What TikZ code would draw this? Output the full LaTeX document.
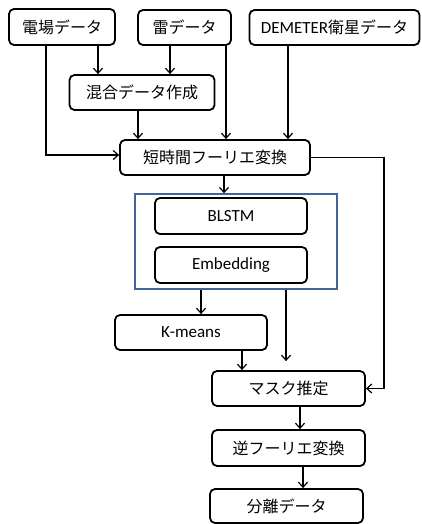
\documentclass[tikz,border=0pt]{standalone}
\usepackage{fontspec}
\setmainfont{Carlito}
\newfontfamily\jp{Noto Sans CJK JP}
\usetikzlibrary{arrows.meta}
\tikzset{
  box/.style={draw=black, line width=1.8pt, rounded corners=5pt, inner sep=0pt, font=\fontsize{16}{18}\selectfont\jp},
  lbox/.style={box, font=\fontsize{17}{19}\selectfont},
  frame/.style={draw={rgb,255:red,65;green,101;blue,154}, line width=1.5pt, inner sep=0pt},
  arr/.style={draw=black, line width=1.2pt, -{Straight Barb[length=5pt,width=9pt,line width=1.2pt]}},
  ln/.style={draw=black, line width=1.2pt}
}
\begin{document}
\begin{tikzpicture}[x=1pt,y=-1pt]
\useasboundingbox (0,0) rectangle (422,524);
% nodes
\node[box, minimum width=106pt, minimum height=36pt] (e) at (62,27) {電場データ};
\node[box, minimum width=93pt, minimum height=35pt] (r) at (184.5,27.5) {雷データ};
\node[box, minimum width=170pt, minimum height=35pt] (d) at (334.5,27.5) {{\rmfamily\fontsize{17}{19}\selectfont DEMETER}衛星データ};
\node[box, minimum width=145pt, minimum height=35pt] (mix) at (142,92.5) {混合データ作成};
\node[box, minimum width=190pt, minimum height=35pt] (stft) at (215,157.5) {短時間フーリエ変換};
\node[frame, minimum width=202pt, minimum height=95pt] (blue) at (236,241.5) {};
\node[lbox, minimum width=152pt, minimum height=36pt] (blstm) at (231,216) {BLSTM};
\node[lbox, minimum width=152pt, minimum height=36pt] (emb) at (231,265) {Embedding};
\node[lbox, minimum width=152pt, minimum height=35pt] (km) at (191,332.5) {K-means};
\node[box, minimum width=153pt, minimum height=35pt] (mask) at (288.5,388.5) {マスク推定};
\node[box, minimum width=153pt, minimum height=36pt] (inv) at (288.5,448) {逆フーリエ変換};
\node[box, minimum width=153pt, minimum height=34pt] (sep) at (286.5,506) {分離データ};
% column coordinates
\coordinate (c46) at (46,0);
\coordinate (c98) at (98,0);
\coordinate (c138) at (138,0);
\coordinate (c170) at (170,0);
\coordinate (c226) at (226,0);
\coordinate (c288) at (288,0);
\coordinate (c224) at (224,0);
\coordinate (c384) at (384,0);
\coordinate (c201) at (201,0);
\coordinate (c286) at (286,0);
\coordinate (c242) at (242,0);
\coordinate (c300) at (300,0);
\coordinate (c303) at (303,0);
\coordinate (r155) at (0,155);
% connectors
\draw[arr] (e.south -| c98) -- (mix.north -| c98);
\draw[arr] (r.south -| c170) -- (mix.north -| c170);
\draw[arr] (r.south -| c226) -- (stft.north -| c226);
\draw[arr] (d.south -| c288) -- (stft.north -| c288);
\draw[arr] (mix.south -| c138) -- (stft.north -| c138);
\draw[arr] (e.south -| c46) -- (c46 |- r155) -- (stft.west |- r155);
\draw[arr] (stft.south -| c224) -- (blue.north -| c224);
\draw[arr] (stft.east) -- (stft.east -| c384) -- (mask.east -| c384) -- (mask.east);
\draw[arr] (blue.south -| c201) -- (km.north -| c201);
\draw[arr] (blue.south -| c286) -- ([yshift=9pt]mask.north -| c286);
\draw[arr] (km.south -| c242) -- (mask.north -| c242);
\draw[arr] (mask.south -| c300) -- (inv.north -| c300);
\draw[arr] (inv.south -| c303) -- (sep.north -| c303);
\end{tikzpicture}
\end{document}
